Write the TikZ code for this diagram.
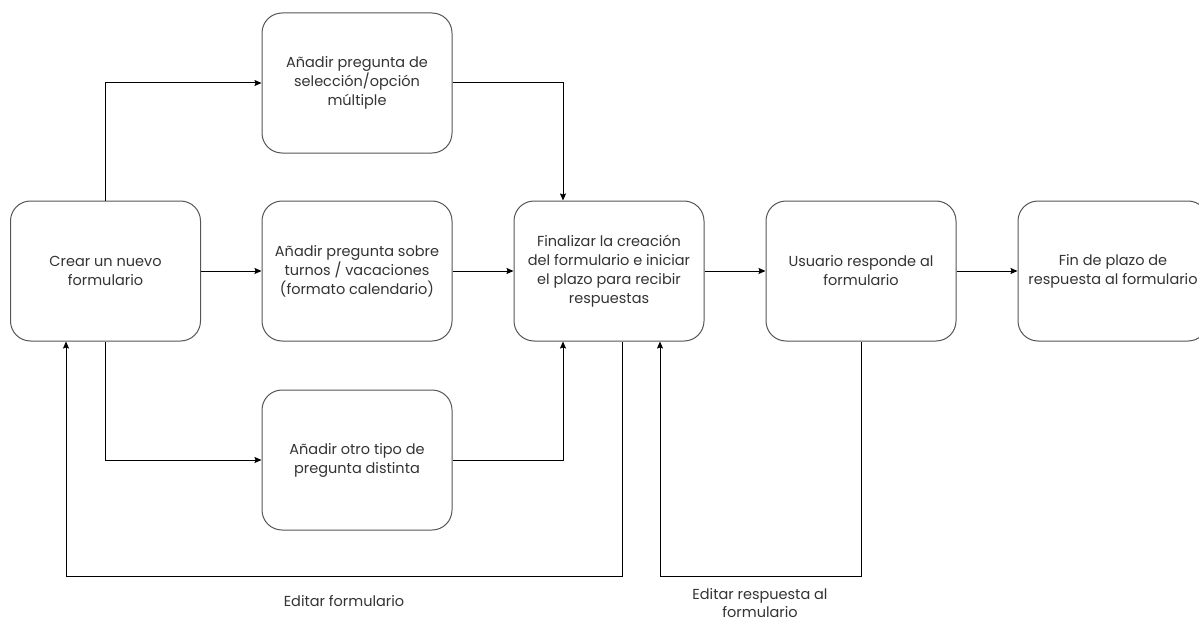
\documentclass[tikz,border=0pt]{standalone}
\usepackage{fontspec}
\setmainfont{Poppins}
\usetikzlibrary{arrows.meta}
\definecolor{boxline}{HTML}{555555}
\definecolor{txt}{HTML}{333333}
\begin{document}
\begin{tikzpicture}[x=1pt,y=-1pt,
  stepbox/.style={draw=boxline, line width=1pt, rounded corners=20pt,
    minimum width=190pt, minimum height=140pt, inner sep=0pt,
    align=center, text=txt, font=\fontsize{14.5}{19}\selectfont},
  lbl/.style={align=center, text=txt, font=\fontsize{14.5}{18}\selectfont},
  link/.style={draw=black, line width=1pt,
    -{Stealth[length=7pt,width=6pt,inset=1pt]}}]
\useasboundingbox (0,0) rectangle (1199,623);
\begin{scope}
\clip (0,0) rectangle (1199,623);
% process steps
\node[stepbox] (crear)  at (105.5,271) {Crear un nuevo\\formulario};
\node[stepbox] (multi)  at (357,83)    {Añadir pregunta de\\selección/opción\\múltiple};
\node[stepbox] (turnos) at (357,271)   {Añadir pregunta sobre\\turnos / vacaciones\\(formato calendario)};
\node[stepbox] (otro)   at (357,460)   {Añadir otro tipo de\\pregunta distinta};
\node[stepbox] (fin)    at (609,271)   {Finalizar la creación\\del formulario e iniciar\\el plazo para recibir\\respuestas};
\node[stepbox] (resp)   at (861,271)   {Usuario responde al\\formulario};
\node[stepbox] (plazo)  at (1113,271)  {Fin de plazo de\\respuesta al formulario};
\end{scope}

% forward flow
\draw[link] (crear.north) |- (multi.west);
\draw[link] (crear.east) -- (turnos.west);
\draw[link] (crear.south) |- (otro.west);
\draw[link] (multi.east) -| ([xshift=-46pt]fin.north);
\draw[link] (turnos.east) -- (fin.west);
\draw[link] (otro.east) -| ([xshift=-46pt]fin.south);
\draw[link] (fin.east) -- (resp.west);
\draw[link] (resp.east) -- (plazo.west);

% feedback loops
\coordinate (loopA) at (66,576);
\coordinate (loopB) at (660,576);
\draw[link] ([xshift=13pt]fin.south) |- (loopA) -- (crear.south -| loopA);
\draw[link] (resp.south) |- (loopB) -- (fin.south -| loopB);

\node[lbl] (editform) at (344,601) {Editar formulario};
\node[lbl] (editresp) at (760,603) {Editar respuesta al\\formulario};
\end{tikzpicture}
\end{document}
